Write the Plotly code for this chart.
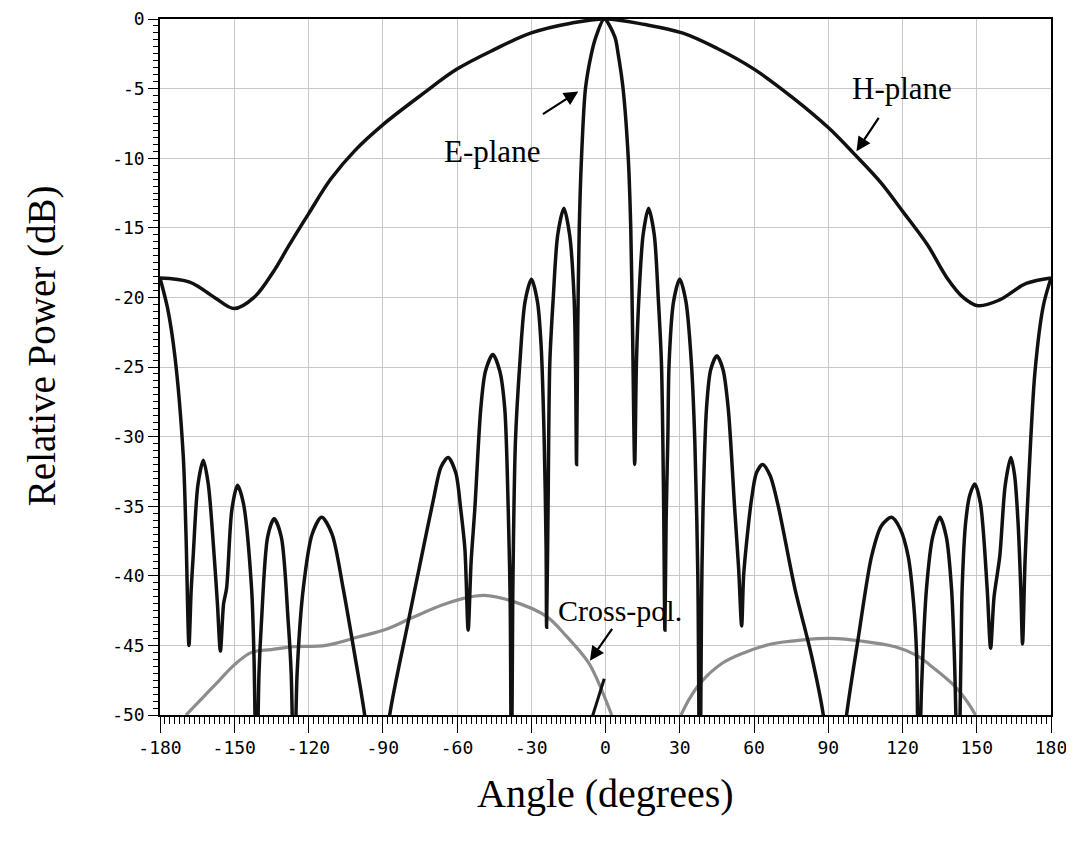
import plotly.graph_objects as go

# E-plane pattern (angle in degrees, relative power in dB)
e_angle = [-180, -176.9, -174, -170.6, -169.5, -168.3, -167.4, -166.6, -164.7, -162.5,
           -160.5, -158.1, -156.8, -155.6, -154.3, -153.1, -151.0, -148.7, -146.3, -143.0,
           -142.0, -141.0, -140.0, -139.0, -136.5, -133.9, -131.0, -128.2, -127.0, -125.8,
           -124.6, -122.1, -118.5, -114.7, -110.5, -106.0, -101.3, -97.3, -92.3, -87.2,
           -79.7, -74.3, -69.5, -66.5, -63.6, -60.5, -58.5, -56.8, -55.5,
           -54.3, -52.8, -50.4, -48.5, -45.5, -42.7, -40.7, -39.3, -38.5, -38.0,
           -37.5, -36.4, -34.6, -32.5, -29.9, -27.5, -26.0, -24.8, -24.0, -23.8,
           -23.2, -22.5, -21.1, -19.3, -16.8, -14.5, -12.7, -12.1, -11.7,
           -11.2, -10.6, -9.7, -8.1, -5.7, -3.9, -0.5, 3.8, 5.1, 7.1, 9.2, 10.2, 10.9, 11.8,
           12.5, 13.5, 15.2, 17.4, 19.7, 21.3, 22.6, 23.5, 24.0,
           24.5, 25.2, 25.7, 27.5, 30.0, 32.5, 34.7, 36.1, 37.3, 38.1,
           38.8, 39.4, 40.8, 42.5, 45.0, 47.5, 49.6, 52.2, 53.8, 55.0,
           55.8, 57.0, 59.0, 61.0, 63.5, 66.5, 69.8, 76.5, 83.2, 88.0, 92.5,
           97.4, 102.1, 107.5, 111.5, 115.6, 119.0, 122.3, 124.5, 125.7, 126.5,
           127.7, 129.7, 132.2, 135.1, 137.7, 139.8, 141.0, 142.5,
           143.6, 144.1, 145.5, 147.2, 149.2, 151.5, 154.2, 155.6,
           157.0, 159.3, 161.5, 163.8, 165.3, 166.7, 167.8, 168.5,
           169.5, 170.8, 173.5, 176.9, 180]
e_db = [-18.6, -20.8, -24.2, -31.4, -37.0, -45.0, -41.0, -38.6, -33.5, -31.7,
        -33.4, -38.6, -42.0, -45.4, -42.0, -40.9, -35.3, -33.5, -34.8, -40.9,
        -46.0, -56.0, -47.0, -43.3, -37.2, -35.9, -37.2, -43.3, -47.0, -56.0,
        -47.0, -40.9, -37.0, -35.8, -37.0, -40.9, -45.7, -50.0, -58.0, -50.0,
        -43.3, -38.6, -34.5, -32.2, -31.5, -32.6, -35.2, -38.1, -43.9,
        -39.0, -35.2, -28.0, -25.3, -24.1, -25.3, -28.0, -35.2, -42.0, -58.0,
        -42.0, -30.4, -24.7, -20.3, -18.7, -20.3, -23.5, -30.0, -38.0, -43.7,
        -35.0, -24.7, -20.0, -15.5, -13.6, -15.5, -20.0, -25.0, -32.0,
        -22.0, -15.0, -10.0, -5.0, -2.5, -1.3, 0.0, -1.3, -2.5, -5.0, -10.0, -15.0, -22.0, -32.0,
        -24.7, -20.0, -15.5, -13.6, -15.5, -20.0, -24.7, -35.0, -43.9,
        -36.0, -30.0, -24.7, -20.3, -18.7, -20.3, -24.7, -30.4, -40.0, -58.0,
        -42.0, -35.2, -28.0, -25.2, -24.2, -25.2, -28.0, -35.2, -39.5, -43.6,
        -40.0, -37.6, -34.5, -32.6, -32.0, -32.8, -35.0, -40.9, -45.7, -50.0, -58.0,
        -50.0, -44.5, -38.6, -36.4, -35.8, -36.6, -38.6, -42.0, -45.7, -56.0,
        -48.0, -40.9, -37.2, -35.8, -37.2, -40.9, -46.0, -56.0,
        -46.0, -40.9, -36.2, -34.2, -33.4, -34.8, -40.9, -45.2,
        -41.5, -38.6, -33.5, -31.5, -32.8, -36.2, -41.0, -44.9,
        -39.0, -33.8, -25.4, -20.6, -18.6]

# H-plane pattern
h_angle = [-180, -168, -158, -150, -142, -134, -128, -120, -111, -101, -90, -74, -60, -45,
           -30, -14, 0, 16, 31, 45, 60, 76, 90, 100, 111, 120, 130, 138, 144.5, 150.5,
           159, 170, 180]
h_db = [-18.6, -18.9, -20.0, -20.8, -20.0, -18.1, -16.3, -14.0, -11.5, -9.4, -7.6, -5.4, -3.6, -2.2,
        -1.0, -0.3, 0.0, -0.4, -1.0, -2.1, -3.6, -5.7, -7.8, -9.6, -11.7, -13.8, -16.2, -18.6, -20.0, -20.6,
        -20.2, -19.0, -18.6]

# cross-polar levels
xp_left_angle = [-169.5, -163, -156.5, -150, -143, -135, -127, -113, -100, -88, -78, -66, -57,
                 -49, -38, -24, -16, -7, -3, 2.5]
xp_left_db = [-50.0, -48.8, -47.6, -46.4, -45.5, -45.3, -45.1, -45.0, -44.4, -43.8, -43.0, -42.1, -41.6,
              -41.4, -41.8, -42.9, -44.3, -46.2, -47.6, -50.0]
xp_right_angle = [30.5, 34, 38.8, 47, 55, 67, 80, 91, 104, 117, 125.5, 131, 141, 146, 149.5]
xp_right_db = [-50.0, -48.8, -47.6, -46.3, -45.6, -44.9, -44.6, -44.5, -44.7, -45.1, -45.7, -46.4,
               -47.9, -49.0, -50.0]
stub_angle = [-6.0, -3.0, -0.5]
stub_db = [-50.5, -48.8, -47.4]

x_ticks = [-180, -150, -120, -90, -60, -30, 0, 30, 60, 90, 120, 150, 180]
x_labels = ["-180", "-150", "-120", "-90", "-60", "-30", "0", "30", "60", "90", "120", "150", "180"]
y_ticks = [0, -5, -10, -15, -20, -25, -30, -35, -40, -45, -50]
y_labels = ["0", "-5", "-10", "-15", "-20", "-25", "-30", "-35", "-40", "-45", "-50"]

serif = "Liberation Serif, Times New Roman, serif"
mono = "DejaVu Sans Mono, monospace"

fig = go.Figure()
fig.add_trace(go.Scatter(x=xp_left_angle, y=xp_left_db, mode="lines", line_shape="spline",
                         line=dict(color="#8c8c8c", width=3.2), showlegend=False))
fig.add_trace(go.Scatter(x=xp_right_angle, y=xp_right_db, mode="lines", line_shape="spline",
                         line=dict(color="#8c8c8c", width=3.2), showlegend=False))
fig.add_trace(go.Scatter(x=stub_angle, y=stub_db, mode="lines",
                         line=dict(color="#111", width=3), showlegend=False))
fig.add_trace(go.Scatter(x=h_angle, y=h_db, mode="lines", line_shape="spline",
                         line=dict(color="#111", width=3.5), showlegend=False))
fig.add_trace(go.Scatter(x=e_angle, y=e_db, mode="lines", line_shape="spline",
                         line=dict(color="#111", width=3.5, smoothing=0.8), showlegend=False))

axis_common = dict(tickwidth=1, tickcolor="black", showline=True, linecolor="black", linewidth=1.5,
                   mirror=True, showgrid=True, gridcolor="#c8c8c8", gridwidth=1, zeroline=False,
                   automargin=False, ticklabeloverflow="allow",
                   tickfont=dict(family=mono, size=18, color="black"))
fig.update_xaxes(range=[-180, 180], tickvals=x_ticks, ticktext=x_labels,
                 ticks="outside", ticklen=16,
                 minor=dict(dtick=2, ticklen=7, ticks="outside", tickcolor="black", showgrid=False),
                 **axis_common)
fig.update_yaxes(range=[-50, 0], tickvals=y_ticks, ticktext=y_labels,
                 ticks="outside", ticklen=10,
                 minor=dict(dtick=0.5, ticklen=5, ticks="outside", tickcolor="black", showgrid=False),
                 **axis_common)

ann_font = dict(family=serif, size=31, color="black")
arrow = dict(showarrow=True, arrowhead=2, arrowsize=1.3, arrowwidth=2.2, arrowcolor="black",
             axref="x", ayref="y", text="")
fig.add_annotation(x=-46.0, y=-9.5, text="E-plane", showarrow=False, font=ann_font)
fig.add_annotation(x=-11.0, y=-5.2, ax=-25.9, ay=-6.9, **arrow)
fig.add_annotation(x=119.6, y=-5.0, text="H-plane", showarrow=False, font=ann_font)
fig.add_annotation(x=101.4, y=-9.5, ax=110.8, ay=-7.0, **arrow)
fig.add_annotation(x=5.7, y=-42.5, text="Cross-pol.", showarrow=False,
                   font=dict(family=serif, size=30, color="black"))
fig.add_annotation(x=-6.3, y=-46.1, ax=3.1, ay=-43.7, **arrow)

fig.add_annotation(x=0.5, y=-0.113, xref="paper", yref="paper", xanchor="center", yanchor="middle",
                   text="Angle (degrees)", showarrow=False,
                   font=dict(family=serif, size=40, color="black"))
fig.add_annotation(x=-0.1324, y=0.53, xref="paper", yref="paper", xanchor="center", yanchor="middle",
                   text="Relative Power (dB)", textangle=-90, showarrow=False,
                   font=dict(family=serif, size=39, color="black"))

# page body keeps an 8px margin, so the figure is sized to fit inside the window
fig.update_layout(width=1058, height=830, margin=dict(l=152, r=15, t=11, b=123),
                  paper_bgcolor="white", plot_bgcolor="white")

fig.write_html("out.html")
